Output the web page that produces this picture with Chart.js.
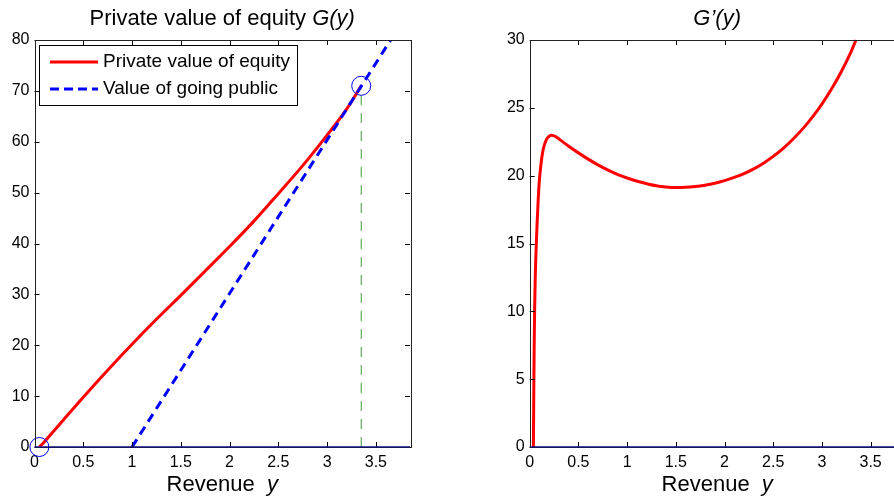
<!DOCTYPE html>
<html lang="en">
<head>
<meta charset="UTF-8">
<title>Private value of equity G(y)</title>
<script src="https://cdn.jsdelivr.net/npm/chart.js@4.4.0/dist/chart.umd.min.js"></script>
<style>
  html, body { margin: 0; padding: 0; background: #fff; overflow: hidden; width: 894px; height: 497px; }
  .box { position: absolute; top: 0; height: 497px; }
</style>
</head>
<body>
<div class="box" style="left:0;width:440px"><canvas id="left" width="440" height="497"></canvas></div>
<div class="box" style="left:480px;width:440px"><canvas id="right" width="440" height="497"></canvas></div>
<script>
// left panel: private value of equity G(y)
const gX = [0.05, 0.1, 0.2, 0.3, 0.5, 0.75, 1.0, 1.25, 1.5, 1.75, 2.0, 2.25, 2.5, 2.75, 3.0, 3.2, 3.35];
const gY = [0, 1.0, 3.2, 5.4, 9.8, 15.1, 20.2, 25.1, 29.8, 34.6, 39.4, 44.4, 49.8, 55.3, 61.3, 66.4, 71];
// value of going public (straight line)
const pubX = [1, 3.85];
const pubY = [0, 86];
// marked points and the threshold
const markX = [0.05, 3.35];
const markY = [0, 71];
const threshold = 3.35;

// right panel: G'(y)
const dX = [0.038, 0.042, 0.046, 0.051, 0.058, 0.066, 0.075, 0.087, 0.1, 0.115, 0.13, 0.15, 0.175, 0.2, 0.225, 0.25, 0.28, 0.32,
            0.4, 0.5, 0.6, 0.7, 0.8, 0.9, 1.0, 1.125, 1.3, 1.4, 1.5, 1.6, 1.7, 1.8, 1.9, 2.0, 2.1, 2.2, 2.3, 2.4, 2.5, 2.6,
            2.7, 2.8, 2.9, 3.0, 3.1, 3.2, 3.3, 3.35];
const dY = [0, 4, 7.5, 10.3, 12.8, 14.6, 16.3, 18.2, 19.7, 20.8, 21.6, 22.25, 22.7, 22.9, 22.97, 22.93, 22.82, 22.6,
            22.17, 21.68, 21.22, 20.8, 20.43, 20.1, 19.83, 19.55, 19.25, 19.16, 19.12, 19.14, 19.2, 19.3, 19.44, 19.63, 19.87, 20.15, 20.5, 20.92, 21.42, 22.0,
            22.67, 23.43, 24.3, 25.28, 26.4, 27.68, 29.15, 30];

const xTicks = [0, 0.5, 1, 1.5, 2, 2.5, 3, 3.5];
const FONT = "'Liberation Sans', Arial, sans-serif";

const pts = (xs, ys) => xs.map((x, i) => ({ x: x, y: ys[i] }));

function drawParts(ctx, parts, cx, y, size) {
  let w = 0;
  parts.forEach(p => {
    ctx.font = (p.it ? 'italic ' : '') + size + 'px ' + FONT;
    w += ctx.measureText(p.t).width;
  });
  let x = cx - w / 2;
  ctx.fillStyle = '#000';
  ctx.textBaseline = 'alphabetic';
  ctx.textAlign = 'left';
  parts.forEach(p => {
    ctx.font = (p.it ? 'italic ' : '') + size + 'px ' + FONT;
    ctx.fillText(p.t, x, y);
    x += ctx.measureText(p.t).width;
  });
}

const frame = {
  id: 'frame',
  afterDatasetsDraw(chart, args, o) {
    const ctx = chart.ctx, a = chart.chartArea;
    const xs = chart.scales.x, ys = chart.scales.y;
    ctx.save();
    ctx.strokeStyle = '#000';
    ctx.lineWidth = 1;
    ctx.beginPath();
    xs.ticks.forEach(t => {
      const px = Math.round(xs.getPixelForValue(t.value)) + 0.5;
      ctx.moveTo(px, a.bottom); ctx.lineTo(px, a.bottom - 5);
      ctx.moveTo(px, a.top); ctx.lineTo(px, a.top + 5);
    });
    ys.ticks.forEach(t => {
      const py = Math.round(ys.getPixelForValue(t.value)) + 0.5;
      ctx.moveTo(a.left, py); ctx.lineTo(a.left + 5, py);
      ctx.moveTo(a.right, py); ctx.lineTo(a.right - 5, py);
    });
    ctx.stroke();
    ctx.strokeStyle = '#222';
    ctx.strokeRect(Math.round(a.left) + 0.5, Math.round(a.top) + 0.5, Math.round(a.right - a.left), Math.round(a.bottom - a.top));
    // zero line along the bottom
    ctx.strokeStyle = '#10107a';
    ctx.lineWidth = 1.5;
    ctx.beginPath();
    ctx.moveTo(a.left, a.bottom); ctx.lineTo(a.right, a.bottom);
    ctx.stroke();

    drawParts(ctx, o.title, (a.left + a.right) / 2, 25, 22);
    drawParts(ctx, [{ t: 'Revenue  ' }, { t: 'y', it: true }], (a.left + a.right) / 2, 491, 22);

    if (o.legend) {
      ctx.fillStyle = '#fff';
      ctx.fillRect(39, 45, 258, 60);
      ctx.strokeStyle = '#000';
      ctx.lineWidth = 1;
      ctx.strokeRect(39.5, 45.5, 258, 60);
      ctx.lineWidth = 3;
      ctx.strokeStyle = '#ff0000';
      ctx.beginPath(); ctx.moveTo(50, 62); ctx.lineTo(98, 62); ctx.stroke();
      ctx.strokeStyle = '#0000ff';
      ctx.setLineDash([9, 5]);
      ctx.beginPath(); ctx.moveTo(50, 89); ctx.lineTo(98, 89); ctx.stroke();
      ctx.setLineDash([]);
      ctx.fillStyle = '#000';
      ctx.font = '19px ' + FONT;
      ctx.textBaseline = 'middle';
      ctx.textAlign = 'left';
      ctx.fillText('Private value of equity', 103, 62);
      ctx.fillText('Value of going public', 103, 89);
    }
    ctx.restore();
  }
};

function scales(yMax, yStep, yWidth) {
  return {
    x: {
      type: 'linear', min: 0, max: 3.85,
      afterBuildTicks: s => { s.ticks = xTicks.map(v => ({ value: v })); },
      afterFit: s => { s.height = 50; },
      grid: { display: false, drawTicks: false },
      border: { display: false },
      ticks: { color: '#000', padding: 6, maxRotation: 0, autoSkip: false, font: { family: FONT, size: 16 }, callback: v => String(v) }
    },
    y: {
      min: 0, max: yMax,
      afterFit: s => { s.width = yWidth; },
      grid: { display: false, drawTicks: false },
      border: { display: false },
      ticks: { color: '#000', padding: 5, stepSize: yStep, font: { family: FONT, size: 16 }, callback: v => String(v) }
    }
  };
}

new Chart(document.getElementById('left'), {
  type: 'line',
  data: {
    datasets: [
      { data: pts(markX, markY), showLine: false, pointRadius: 9.5, pointBorderWidth: 1, pointBorderColor: '#0000ff', pointBackgroundColor: 'rgba(0,0,0,0)', clip: false, order: 0 },
      { data: pts(pubX, pubY), borderColor: '#0000ff', borderWidth: 3, borderDash: [9, 6], pointRadius: 0, clip: { left: 5, top: 0, right: 0, bottom: 5 }, order: 1 },
      { data: pts(gX, gY), borderColor: '#ff0000', borderWidth: 3, pointRadius: 0, cubicInterpolationMode: 'monotone', clip: 3, order: 2 },
      { data: pts([threshold, threshold], [0, markY[1]]), borderColor: '#3a9a3a', borderWidth: 1, borderDash: [10, 8], pointRadius: 0, order: 3 }
    ]
  },
  options: {
    responsive: false, animation: false,
    layout: { padding: { left: 0, right: 30, top: 40, bottom: 0 } },
    plugins: { legend: { display: false }, tooltip: { enabled: false },
      frame: { title: [{ t: 'Private value of equity ' }, { t: 'G(y)', it: true }], legend: true } },
    scales: scales(80, 10, 34.5)
  },
  plugins: [frame]
});

new Chart(document.getElementById('right'), {
  type: 'line',
  data: {
    datasets: [
      { data: pts(dX, dY), borderColor: '#ff0000', borderWidth: 3, pointRadius: 0, cubicInterpolationMode: 'monotone', clip: 3 }
    ]
  },
  options: {
    responsive: false, animation: false,
    layout: { padding: { left: 0, right: 15.3, top: 40, bottom: 0 } },
    plugins: { legend: { display: false }, tooltip: { enabled: false },
      frame: { title: [{ t: 'G\u2019(y)', it: true }], legend: false } },
    scales: scales(30, 5, 49.7)
  },
  plugins: [frame]
});
</script>
</body>
</html>
